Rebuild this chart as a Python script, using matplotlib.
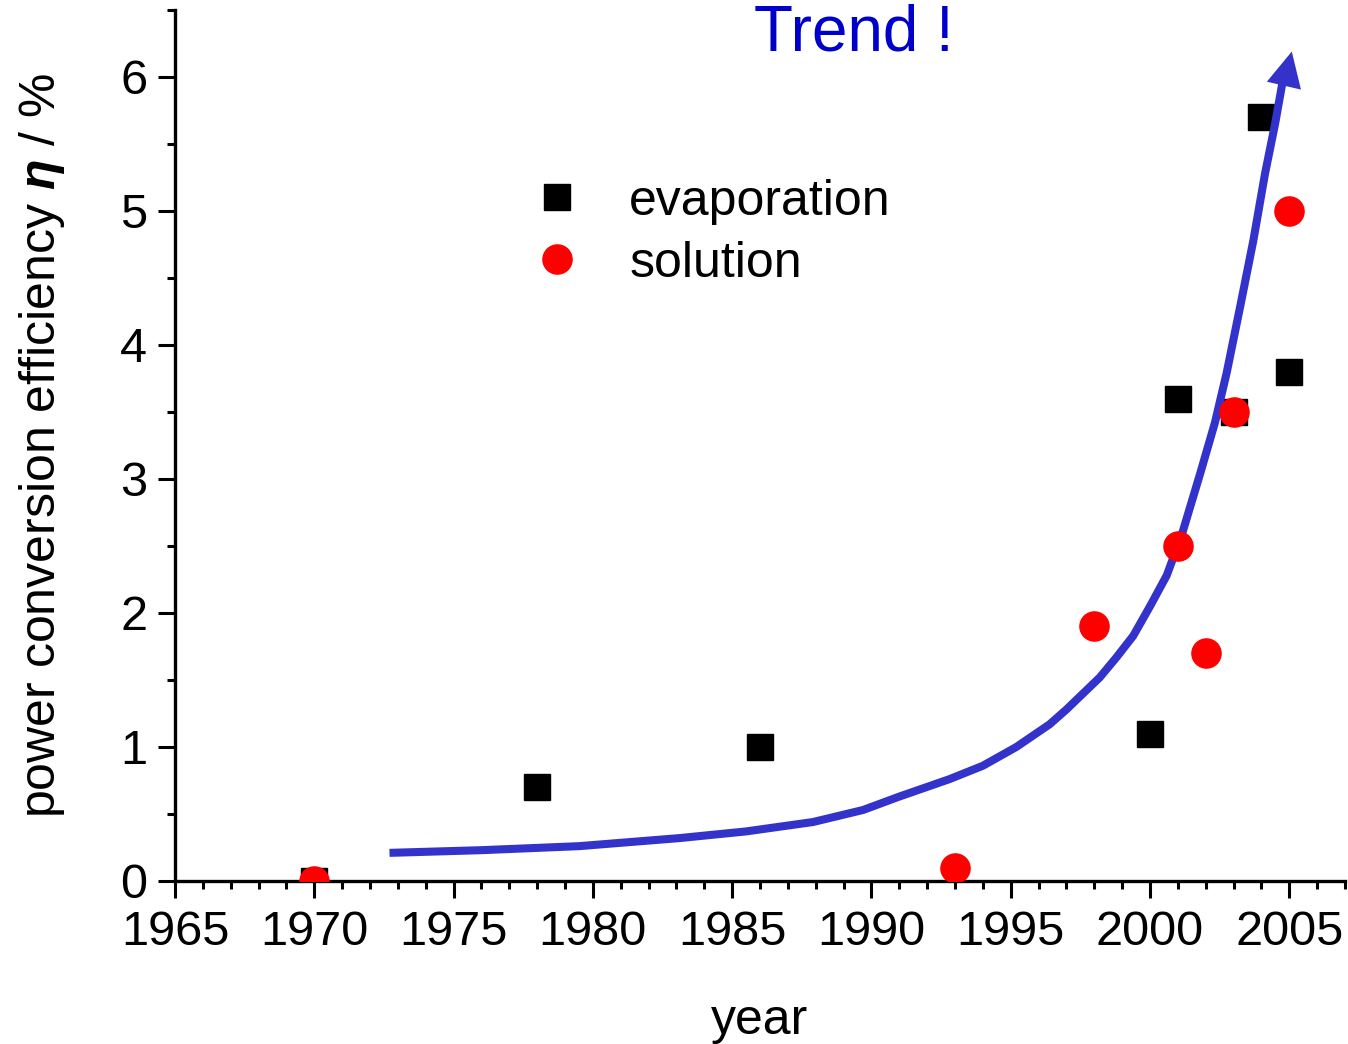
import matplotlib
matplotlib.use("Agg")
import matplotlib.pyplot as plt
from matplotlib.ticker import MultipleLocator

plt.rcParams['font.family'] = ['Liberation Sans', 'DejaVu Sans']
plt.rcParams['mathtext.fontset'] = 'custom'
plt.rcParams['mathtext.it'] = 'Liberation Sans:italic:bold'

# data
evap_year = [1970, 1978, 1986, 2000, 2001, 2003, 2004, 2005]
evap_eff = [0.0, 0.7, 1.0, 1.1, 3.6, 3.5, 5.7, 3.8]

sol_year = [1970, 1993, 1998, 2001, 2002, 2003, 2005]
sol_eff = [0.0, 0.1, 1.9, 2.5, 1.7, 3.5, 5.0]

# hand-drawn trend curve
trend_year = [1972.7, 1976.0, 1979.5, 1983.1, 1985.5, 1987.9, 1989.7, 1991.0, 1992.8,
              1994.0, 1995.2, 1996.4, 1997.0, 1998.2, 1998.8, 1999.4, 2000.0, 2000.6,
              2001.15, 2001.8, 2002.33, 2002.75, 2003.24, 2003.71, 2004.13, 2004.49, 2004.79]
trend_eff = [0.21, 0.23, 0.26, 0.32, 0.37, 0.44, 0.53, 0.63, 0.76,
             0.86, 1.0, 1.17, 1.28, 1.52, 1.67, 1.83, 2.05, 2.28,
             2.59, 3.04, 3.42, 3.79, 4.29, 4.78, 5.28, 5.65, 6.0]
arrow_tip = (2005.09, 6.19)

fig = plt.figure(figsize=(13.48, 10.44), dpi=100)
ax = fig.add_axes([175/1348, 1 - 881/1044, 1170/1348, 871/1044])

blue = '#3333cc'
ax.plot(evap_year, evap_eff, 's', color='black', markersize=19, label='evaporation', zorder=3)
ax.plot(trend_year, trend_eff, '-', color=blue, lw=5.8, solid_capstyle='butt',
        solid_joinstyle='round', zorder=4)
ax.annotate('', xy=arrow_tip, xytext=(trend_year[-2], trend_eff[-2]),
            arrowprops=dict(arrowstyle='-|>,head_length=0.9,head_width=0.45', color=blue,
                            lw=0, mutation_scale=28, shrinkA=0, shrinkB=0), zorder=4)
ax.plot(sol_year, sol_eff, 'o', color='red', markersize=21, label='solution', zorder=5)

ax.set_xlim(1965, 2007)
ax.set_ylim(0, 6.5)
ax.xaxis.set_major_locator(MultipleLocator(5))
ax.xaxis.set_minor_locator(MultipleLocator(1))
ax.yaxis.set_major_locator(MultipleLocator(1))
ax.yaxis.set_minor_locator(MultipleLocator(0.5))

for s in ['top', 'right']:
    ax.spines[s].set_visible(False)
for s in ['left', 'bottom']:
    ax.spines[s].set_linewidth(2.4)
ax.tick_params(which='major', direction='out', length=12, width=2.2, labelsize=35)
ax.tick_params(which='minor', direction='out', length=6, width=2.2)
ax.tick_params(axis='x', which='major', pad=9)
ax.tick_params(axis='y', which='major', pad=8)

ax.set_xlabel('year', fontsize=36, labelpad=31)
ax.set_ylabel(r'power conversion efficiency $\eta$ / %', fontsize=36, labelpad=38)

ax.text(1985.8, 6.2, 'Trend !', color='#0000cc', fontsize=46, va='baseline', clip_on=False)

ax.legend(loc='upper left', bbox_to_anchor=(0.305, 0.806), frameon=False, fontsize=36,
          handlelength=1.0, handletextpad=0.95, borderaxespad=0, borderpad=0,
          labelspacing=0.32, numpoints=1)

fig.savefig('out.png', dpi=100)
